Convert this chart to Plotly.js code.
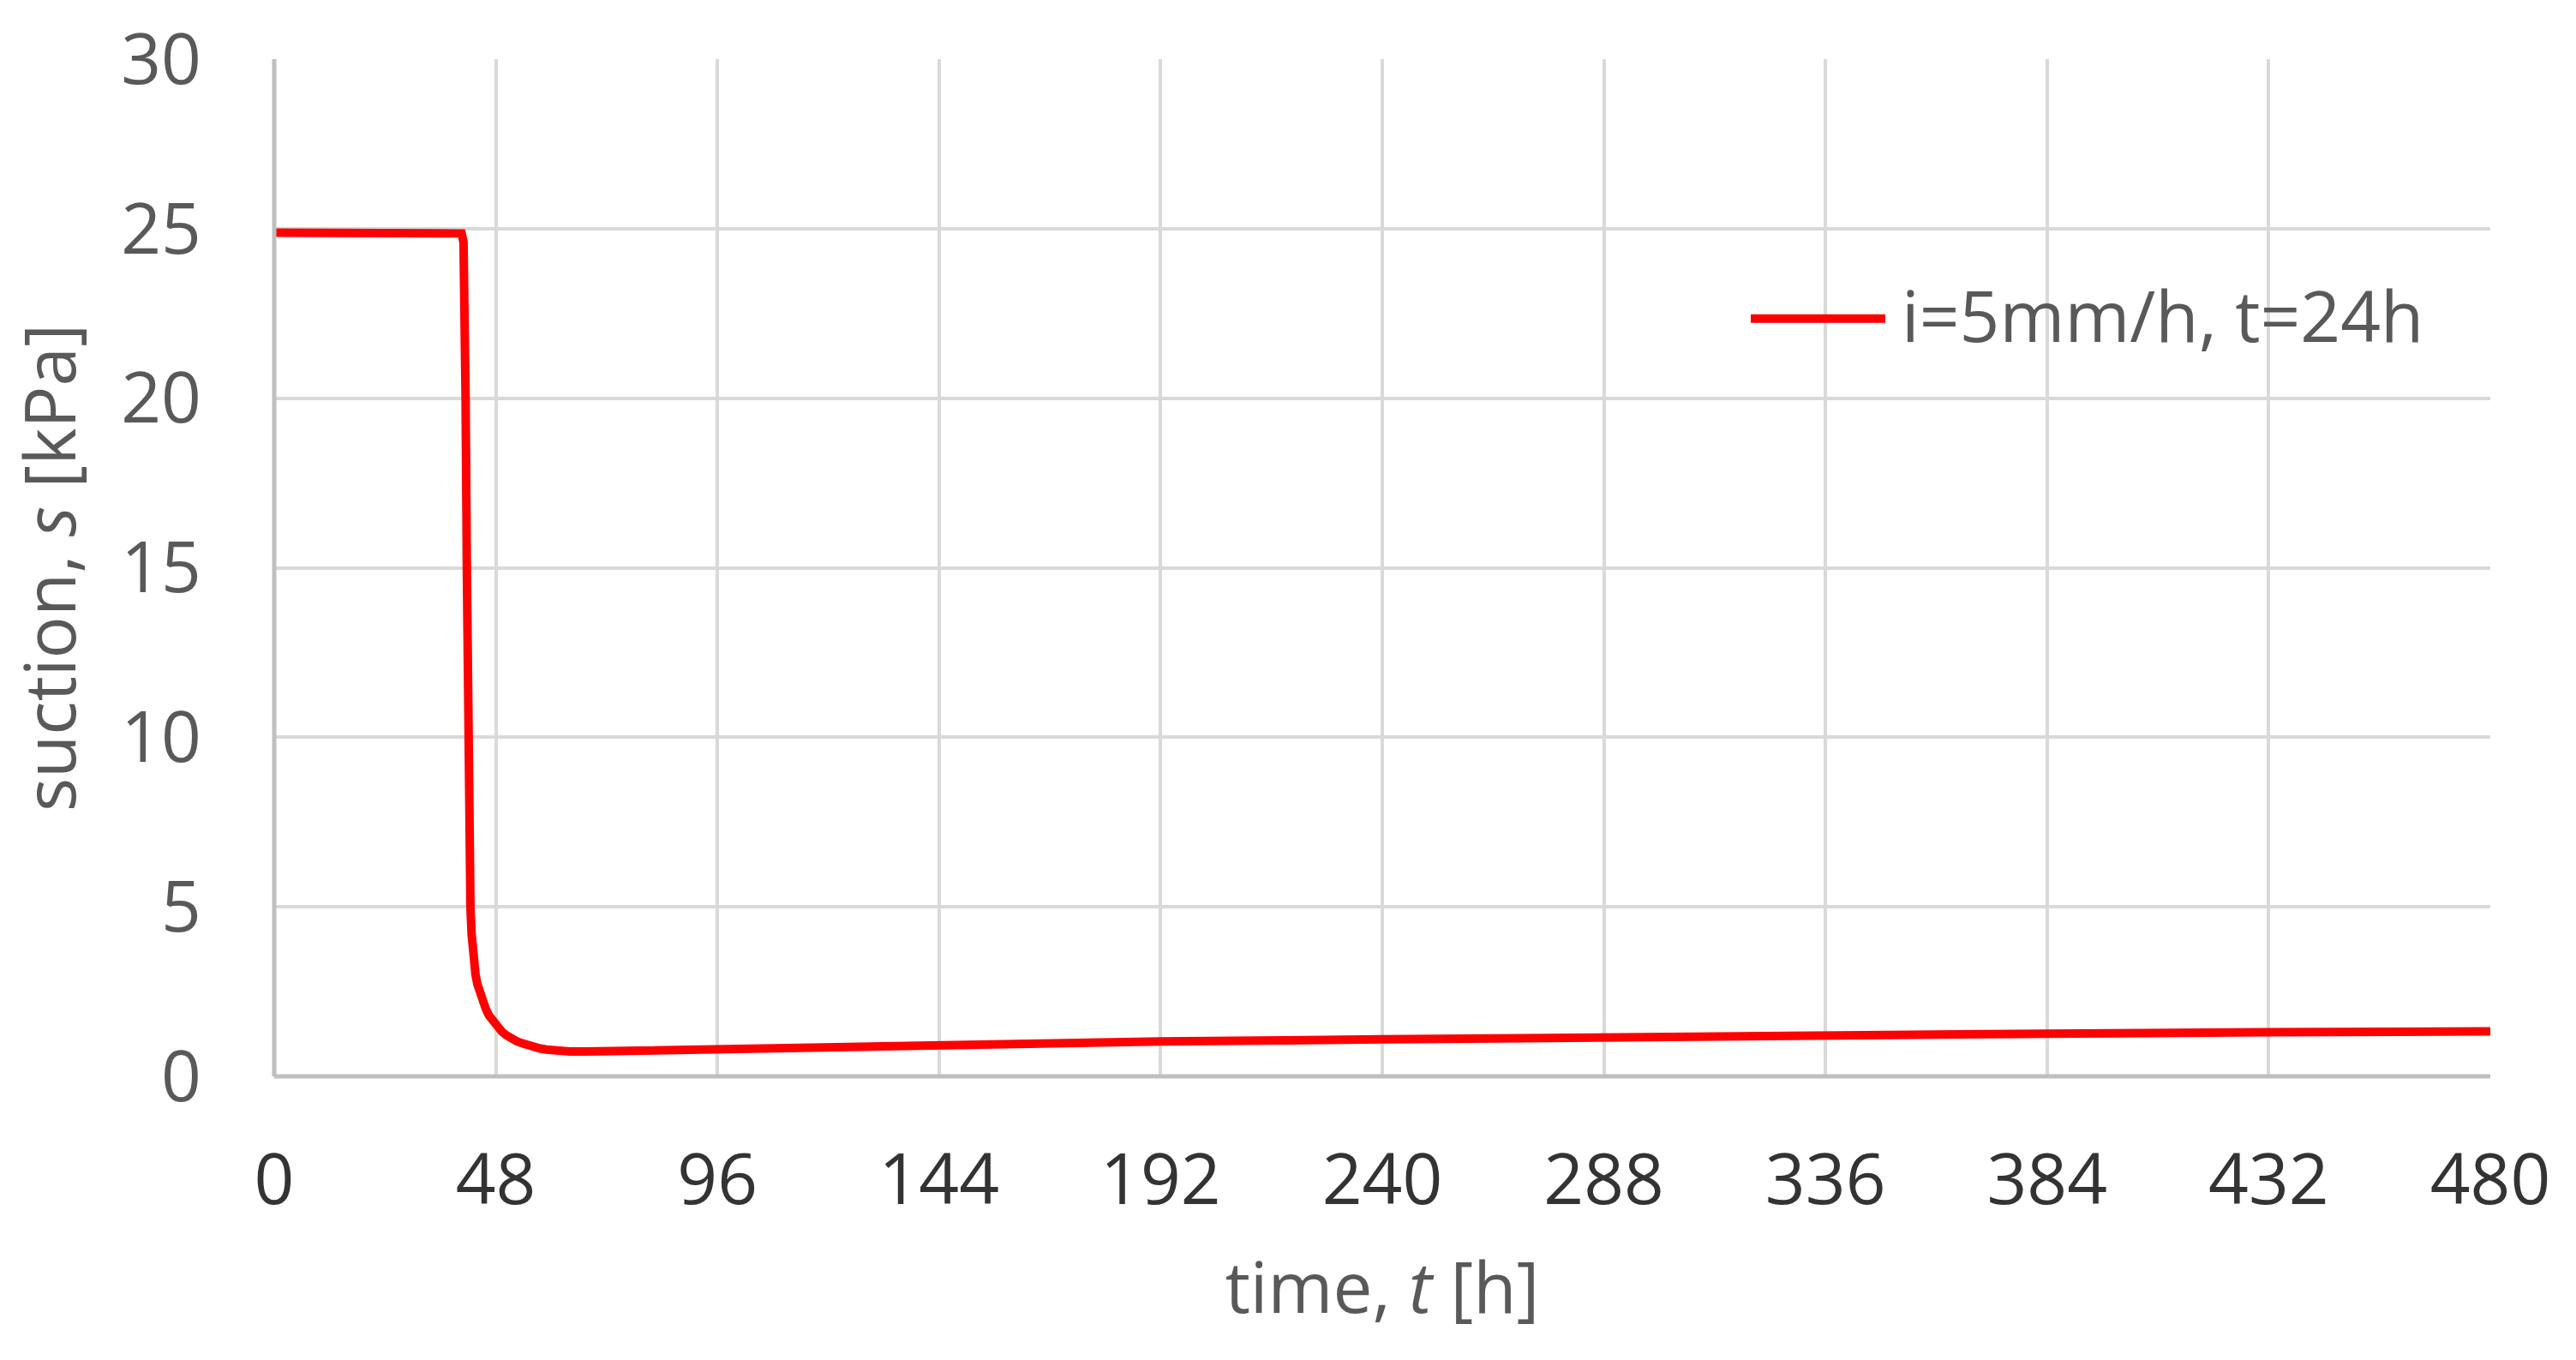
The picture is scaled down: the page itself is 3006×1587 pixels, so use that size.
<!DOCTYPE html>
<html>
<head>
<meta charset="utf-8">
<script src="https://cdn.plot.ly/plotly-3.0.1.min.js"></script>
<style>
  html, body { margin: 0; padding: 0; background: #fff; }
  #graph { width: 3006px; height: 1587px; }
</style>
</head>
<body>
<div id="graph"></div>
<script>
// suction vs time
const timeH = [0, 40.0, 40.6, 41.0, 41.2, 41.45, 41.72, 41.95, 42.2, 42.5, 42.75, 43.0, 43.3,
  43.6, 44.0, 44.5, 45.1, 45.8, 46.5, 47.3, 48.3, 49.3, 50.3, 51.4, 52.6, 53.8, 55.0,
  56.3, 57.6, 59.0, 61.3, 64.0, 67.5, 72, 80, 96, 120, 144, 168, 192, 240, 288, 336,
  384, 432, 480];
const suction = [24.88, 24.88, 24.86, 24.6, 23.0, 20.0, 15.0, 10.0, 7.2, 5.0, 4.2, 3.66, 3.3,
  3.0, 2.72, 2.48, 2.22, 2.0, 1.8, 1.63, 1.46, 1.32, 1.21, 1.11, 1.03, 0.97, 0.91,
  0.86, 0.82, 0.79, 0.75, 0.735, 0.73, 0.74, 0.77, 0.82, 0.88, 0.94, 0.99, 1.03, 1.09,
  1.16, 1.20, 1.26, 1.30, 1.33];

const xTicks = [0, 48, 96, 144, 192, 240, 288, 336, 384, 432, 480];
const yTicks = [0, 5, 10, 15, 20, 25, 30];
const seriesName = "i=5mm/h, t=24h";

const FONT = "'Open Sans', Lato, sans-serif";
const FS = 82;

const trace = {
  x: timeH,
  y: suction,
  type: "scatter",
  mode: "lines",
  name: seriesName,
  line: { color: "#ff0000", width: 10 },
  showlegend: false
};

const axisBase = {
  showgrid: true,
  gridcolor: "#d9d9d9",
  gridwidth: 4,
  zeroline: false,
  ticks: "",
  showline: false
};

const layout = {
  width: 3006,
  height: 1587,
  margin: { l: 320, r: 100, t: 69, b: 331 },
  paper_bgcolor: "#ffffff",
  plot_bgcolor: "#ffffff",
  font: { family: FONT, size: FS, color: "#595959" },
  xaxis: Object.assign({}, axisBase, {
    range: [0, 480],
    tickmode: "array",
    tickvals: xTicks,
    ticktext: xTicks.map(String),
    tickfont: { family: FONT, size: FS, color: "#333333" },
    ticklabelstandoff: 66,
    title: { text: "time, <i>t</i> [h]", font: { family: FONT, size: FS, color: "#595959" }, standoff: 46 }
  }),
  yaxis: Object.assign({}, axisBase, {
    range: [0, 30],
    tickmode: "array",
    tickvals: yTicks,
    ticktext: yTicks.map(String),
    tickfont: { family: FONT, size: FS, color: "#595959" },
    ticklabelstandoff: 84,
    title: { text: "suction, <i>s</i> [kPa]", font: { family: FONT, size: FS, color: "#595959" }, standoff: 92 }
  }),
  shapes: [
    // axis lines left and bottom
    { type: "line", xref: "paper", yref: "paper", x0: 0, x1: 0, y0: 0, y1: 1,
      line: { color: "#bfbfbf", width: 5 } },
    { type: "line", xref: "paper", yref: "paper", x0: 0, x1: 1, y0: 0, y1: 0,
      line: { color: "#bfbfbf", width: 5 } },
    // legend swatch
    { type: "line", xref: "paper", yref: "paper", x0: 0.6663, x1: 0.727, y0: 0.745, y1: 0.745,
      line: { color: "#ff0000", width: 10 } }
  ],
  annotations: [
    { xref: "paper", yref: "paper", x: 0.7336, y: 0.749, xanchor: "left", yanchor: "middle",
      text: seriesName, showarrow: false, font: { family: FONT, size: FS, color: "#595959" } }
  ]
};

Plotly.newPlot("graph", [trace], layout, { displayModeBar: false, staticPlot: true });
</script>
</body>
</html>
